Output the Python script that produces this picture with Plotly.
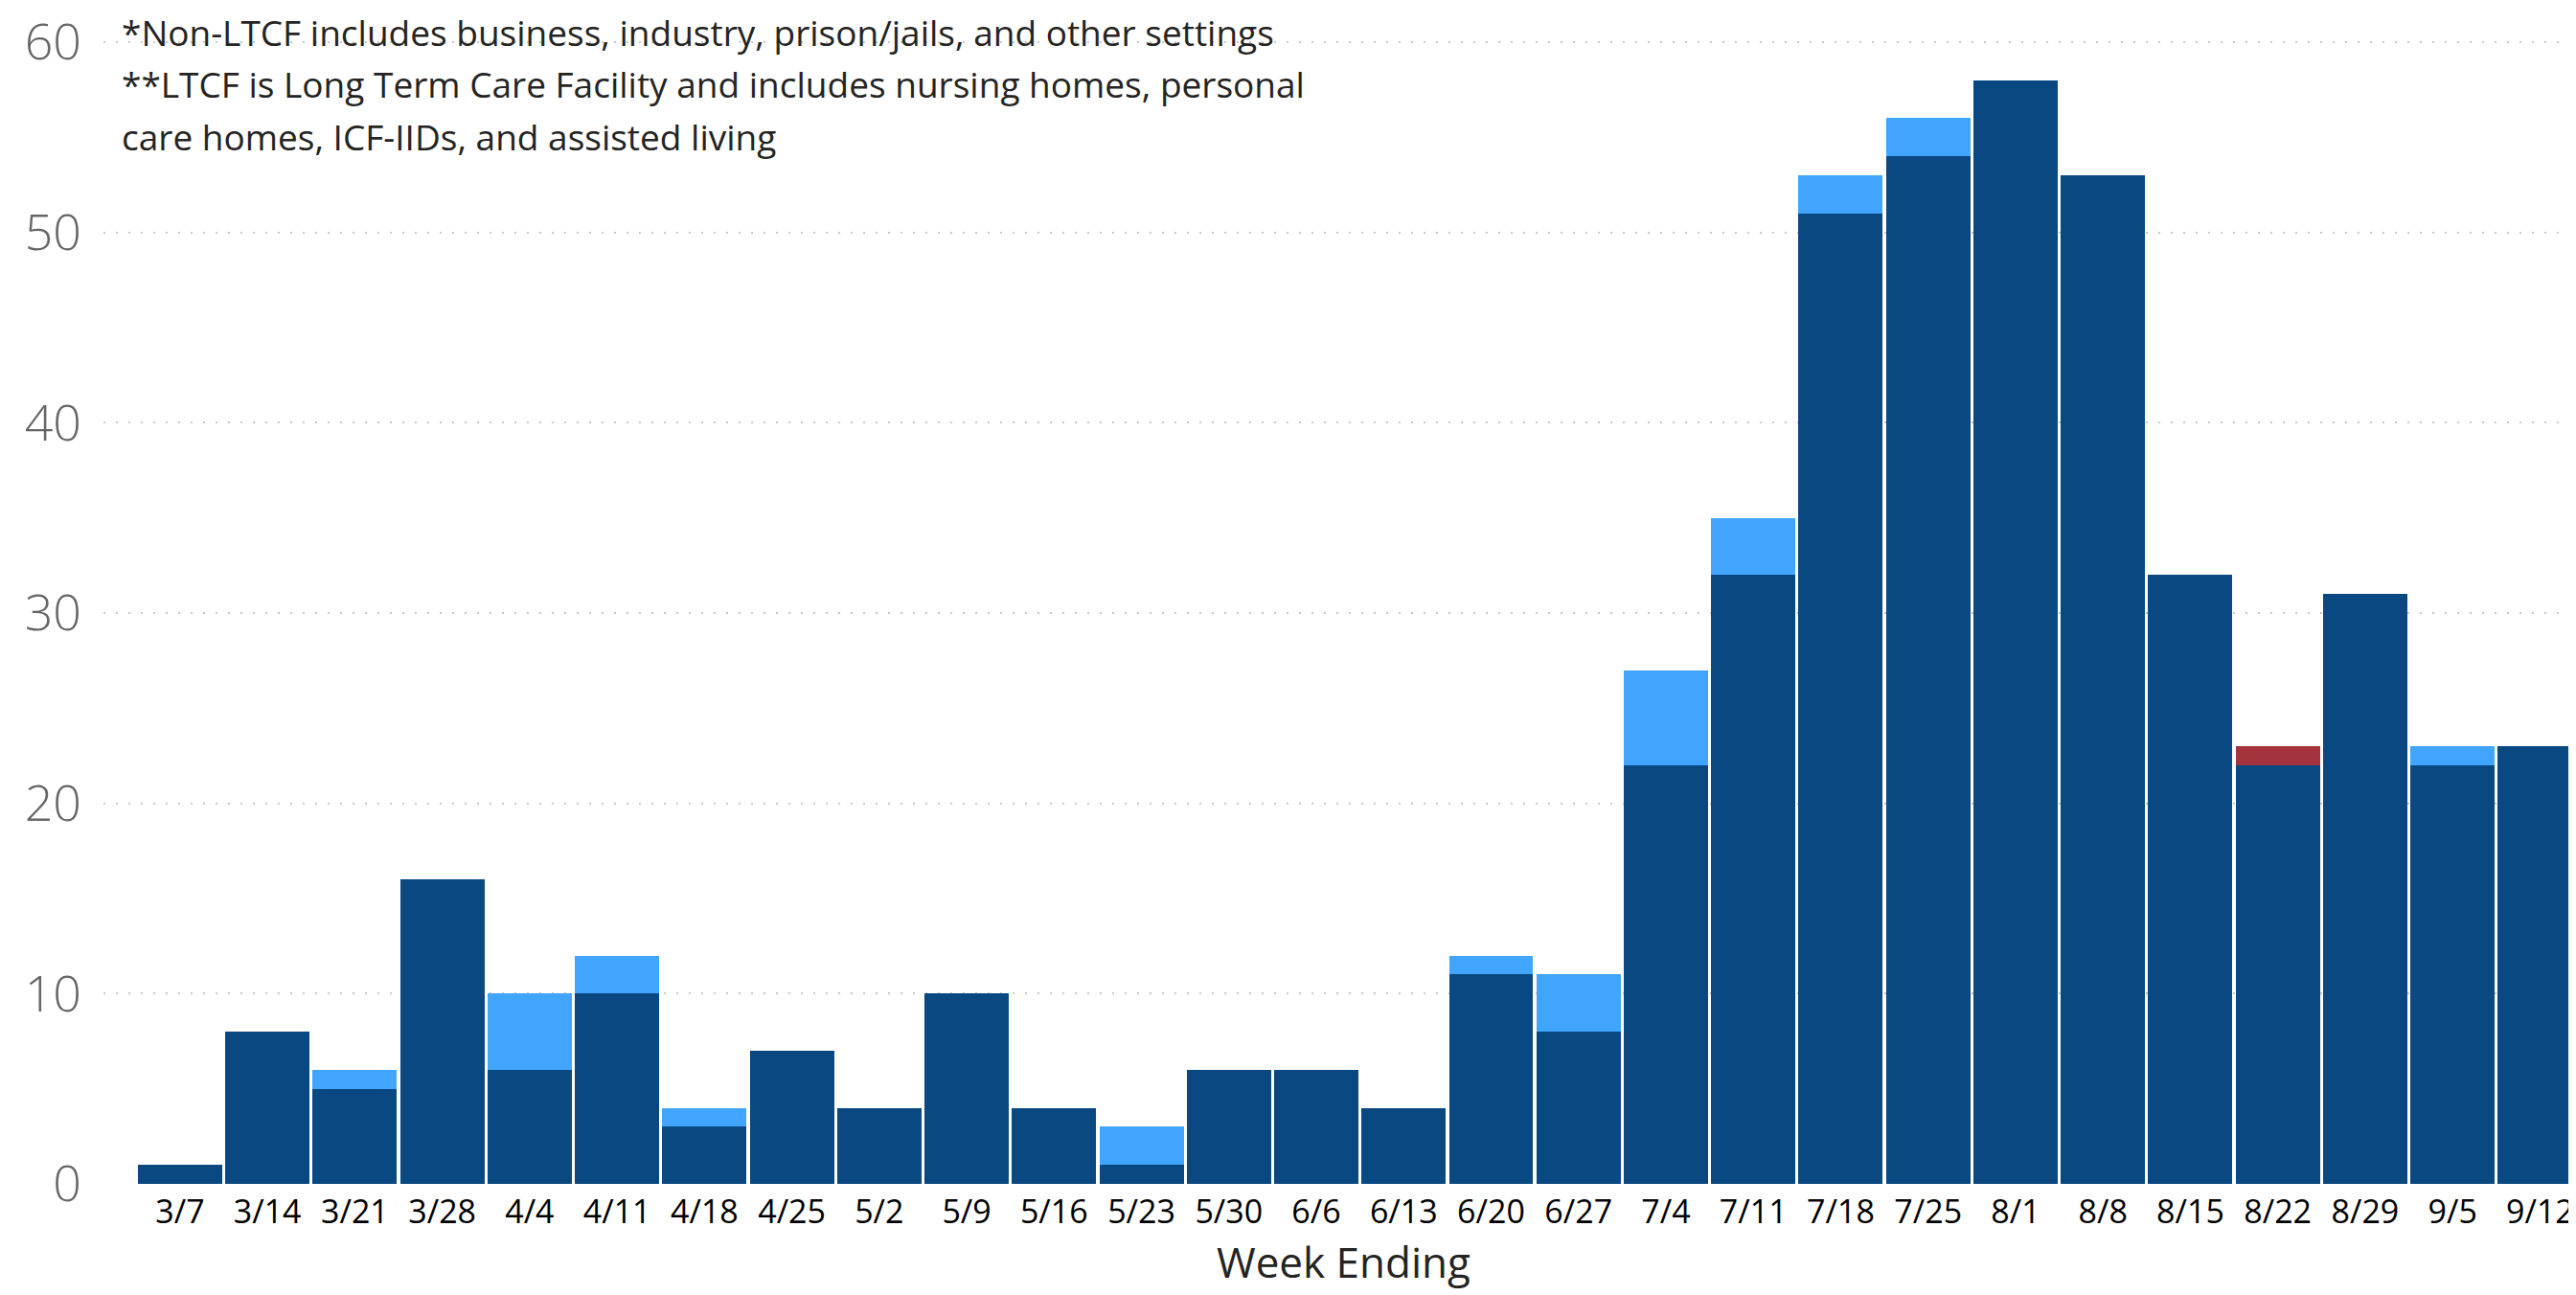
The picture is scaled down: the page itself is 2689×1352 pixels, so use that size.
import plotly.graph_objects as go

weeks = ["3/7", "3/14", "3/21", "3/28", "4/4", "4/11", "4/18", "4/25", "5/2", "5/9",
         "5/16", "5/23", "5/30", "6/6", "6/13", "6/20", "6/27", "7/4", "7/11", "7/18",
         "7/25", "8/1", "8/8", "8/15", "8/22", "8/29", "9/5", "9/12"]
dark_vals = [1, 8, 5, 16, 6, 10, 3, 7, 4, 10,
             4, 1, 6, 6, 4, 11, 8, 22, 32, 51,
             54, 58, 53, 32, 22, 31, 22, 23]
light_vals = [0, 0, 1, 0, 4, 2, 1, 0, 0, 0,
              0, 2, 0, 0, 0, 1, 3, 5, 3, 2,
              2, 0, 0, 0, 0, 0, 1, 0]
red_vals = [0, 0, 0, 0, 0, 0, 0, 0, 0, 0,
            0, 0, 0, 0, 0, 0, 0, 0, 0, 0,
            0, 0, 0, 0, 1, 0, 0, 0]

notes = [
    "*Non-LTCF includes business, industry, prison/jails, and other settings",
    "**LTCF is Long Term Care Facility and includes nursing homes, personal",
    "care homes, ICF-IIDs, and assisted living",
]
x_title = "Week Ending"

FONT = "Segoe UI, Open Sans, sans-serif"

fig = go.Figure()
fig.add_bar(x=weeks, y=dark_vals, name="Series A", marker_color="#0A4881", marker_line_width=0)
fig.add_bar(x=weeks, y=light_vals, name="Series B", marker_color="#41A5FE", marker_line_width=0)
fig.add_bar(x=weeks, y=red_vals, name="Series C", marker_color="#A3343E", marker_line_width=0)

W, H = 2689, 1352
ml, mr, mt, mb = 100, 0, 32, 124
ph = H - mt - mb
pw = W - ml - mr

for t, py in zip(notes, [25, 80, 134]):
    fig.add_annotation(text=t, xref="paper", yref="paper", x=17 / pw,
                       y=(H - mb - py) / ph,
                       xanchor="left", yanchor="middle", showarrow=False,
                       font=dict(family=FONT, size=37, color="#252423"))

fig.update_layout(
    width=W, height=H,
    margin=dict(l=ml, r=mr, t=mt, b=mb, pad=0),
    barmode="stack", bargap=0.036,
    showlegend=False,
    plot_bgcolor="white", paper_bgcolor="white",
    xaxis=dict(
        type="category", range=[-0.876, len(weeks) - 0.5], automargin=False,
        showgrid=False, zeroline=False, showline=False, ticks="",
        tickfont=dict(family=FONT, size=34, color="#000000"),
        ticklabelstandoff=6,
        title=dict(text=x_title, font=dict(family=FONT, size=44, color="#252423"), standoff=15),
    ),
    yaxis=dict(
        range=[0, 60.2], tickvals=[0, 10, 20, 30, 40, 50, 60], automargin=False,
        showgrid=True, gridcolor="#C8C8C8", gridwidth=2, griddash="2px,11px",
        zeroline=False, showline=False, ticks="",
        tickfont=dict(family=FONT, size=52, color="#666666", weight=300),
        ticklabelstandoff=22, ticklabeloverflow="allow",
    ),
)

fig.write_html("out.html")
